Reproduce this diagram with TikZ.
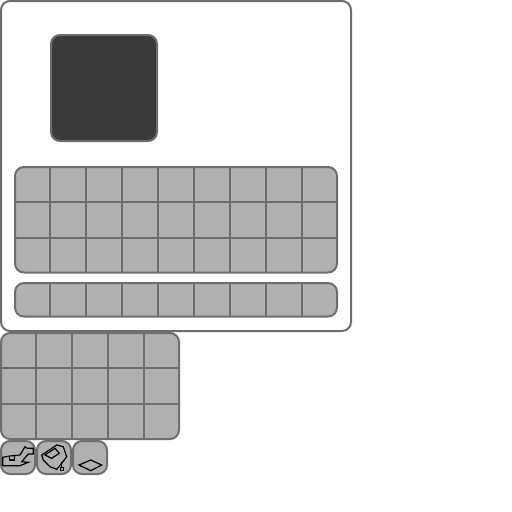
\documentclass[tikz,border=0pt]{standalone}
\definecolor{edge}{RGB}{110,110,110}
\definecolor{cell}{RGB}{176,176,176}
\definecolor{dark}{RGB}{58,58,58}
\tikzset{
  x=1pt,y=-1pt,
  panel/.style={draw=edge,line width=2pt,fill=white,rounded corners=9pt},
  darkpanel/.style={draw=edge,line width=2pt,fill=dark,rounded corners=9pt},
  keypad/.style={draw=edge,line width=2pt,fill=cell,rounded corners=9pt},
  gridline/.style={draw=edge,line width=2pt},
  glyph/.style={draw=black,line width=1.2pt,line join=miter}
}
\begin{document}
\begin{tikzpicture}
\useasboundingbox (0,0) rectangle (512,512);
\fill[white] (0,0) rectangle (512,512);
\draw[panel] (1,1) rectangle (351,331);
\draw[darkpanel] (51,35) rectangle (157,141);
% main keypad
\draw[keypad] (15,167) rectangle (337,272.5);
\foreach \x in {50,86,122,158,194,230,266,302}{\draw[gridline] (\x,167) -- (\x,272.5);}
\foreach \y in {202,238}{\draw[gridline] (15,\y) -- (337,\y);}
% row keypad
\draw[keypad] (15,283) rectangle (337,316.5);
\foreach \x in {50,86,122,158,194,230,266,302}{\draw[gridline] (\x,283) -- (\x,316.5);}
% lower keypad
\draw[keypad] (1,333) rectangle (179,439);
\foreach \x in {36,72,108,144}{\draw[gridline] (\x,333) -- (\x,439);}
\foreach \y in {368,404}{\draw[gridline] (1,\y) -- (179,\y);}
% icons
\draw[keypad] (1,441) rectangle (35,474);
\draw[keypad] (37,441) rectangle (71,474);
\draw[keypad] (73,441) rectangle (107,474);
\draw[glyph] (2.7,457.3) -- (10,456) -- (20,455) -- (25,446.7) -- (27.3,448.3) -- (33.3,448.3) -- (33.3,454) -- (28.3,454) -- (21.7,461.7) -- (28.3,462.3) -- (20,465.7) -- (2.7,465.7) -- cycle;
\draw[glyph] (9.5,456) -- (9.5,460) -- (14.7,460) -- (14.7,456);
\draw[glyph] (41.7,455) -- (56.7,445) -- (63.3,446.7) -- (66.7,456.7) -- (61.7,463.3) -- (56.7,469.3) -- (50,466.7) -- (43.3,460) -- cycle;
\draw[glyph] (45,455) -- (55,448.3) -- (59.3,453.3) -- (51.7,458.3) -- cycle;
\draw[glyph] (61.7,461.7) -- (61.7,467.3);
\draw[glyph] (60.3,467.3) rectangle (63.7,470.7);
\draw[glyph] (79,465) -- (90.7,460) -- (101.7,465) -- (90.7,470.7) -- cycle;
\end{tikzpicture}
\end{document}
